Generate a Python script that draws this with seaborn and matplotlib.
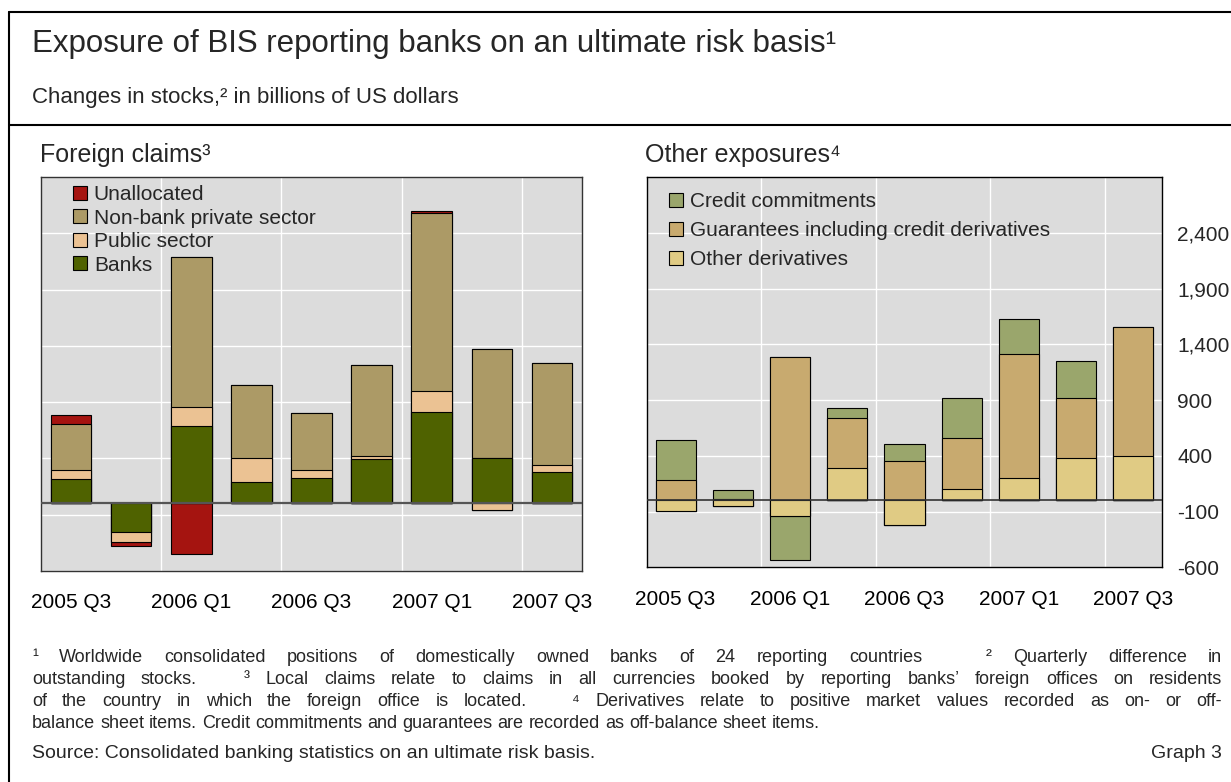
import numpy as np
import pandas as pd
import matplotlib
matplotlib.use("Agg")
import matplotlib.pyplot as plt
import seaborn as sns
from matplotlib.patches import Patch
from matplotlib.lines import Line2D
from matplotlib.ticker import FixedLocator

# ---------------- data ----------------
quarters = ["2005 Q3", "2005 Q4", "2006 Q1", "2006 Q2", "2006 Q3",
            "2006 Q4", "2007 Q1", "2007 Q2", "2007 Q3"]
tick_labels = ["2005 Q3", "2006 Q1", "2006 Q3", "2007 Q1", "2007 Q3"]
y_ticks = [-600, -100, 400, 900, 1400, 1900, 2400]

# Foreign claims (stack order bottom -> top)
banks = [215, -250, 691, 194, 229, 391, 811, 406, 282]
public_sector = [82, -94, 162, 212, 71, 35, 186, -59, 56]
nonbank_private = [412, 0, 1337, 644, 500, 803, 1584, 964, 912]
unallocated = [73, -35, -453, 0, 0, 0, 21, 0, 0]

# Other exposures (stack order bottom -> top)
other_derivatives = [-92, -54, -143, 289, -217, 104, 199, 378, 399]
guarantees = [179, 15, 1286, 452, 357, 456, 1116, 542, 1154]
credit_commitments = [363, 75, -396, 89, 149, 360, 313, 327, 0]

# ---------------- style ----------------
W, H = 1231, 782
sns.set_style("white")
plt.rcParams["font.family"] = ["Liberation Sans", "DejaVu Sans"]

fig = plt.figure(figsize=(W / 100, H / 100), dpi=100)


def fx(px):
    return px / W


def fy(py):
    return 1 - py / H


BG = "#DCDCDC"


def stacked(ax, series, colors, width):
    data = np.array(series, dtype=float)
    pos = np.clip(data, 0, None).cumsum(axis=0)
    neg = np.clip(data, None, 0).cumsum(axis=0)
    for cum in (pos, neg):
        for i in range(len(series) - 1, -1, -1):
            df = pd.DataFrame({"q": quarters, "v": cum[i]})
            sns.barplot(data=df, x="q", y="v", order=quarters, color=colors[i],
                        saturation=1, width=width, edgecolor="black",
                        linewidth=0.8, errorbar=None, ax=ax, zorder=3)


def style_axes(ax, spine_color):
    ax.set_facecolor(BG)
    ax.set_xlim(-0.5, 8.5)
    ax.set_ylim(-600, 2900)
    ax.set_yticks(y_ticks)
    ax.set_xticks([0, 2, 4, 6, 8])
    ax.set_xticklabels(tick_labels)
    ax.xaxis.set_minor_locator(FixedLocator([1.5, 3.5, 5.5, 7.5]))
    ax.grid(False)
    ax.grid(True, axis="y", which="major", color="white", lw=1.0, zorder=0)
    ax.grid(True, axis="x", which="minor", color="white", lw=1.0, zorder=0)
    ax.set_axisbelow(True)
    ax.set_xlabel("")
    ax.set_ylabel("")
    ax.tick_params(axis="x", which="both", length=0, pad=16, labelsize=15,
                   colors="black")
    for s in ax.spines.values():
        s.set_visible(True)
        s.set_color(spine_color)
        s.set_linewidth(1.0)


# ---------------- left panel ----------------
axL = fig.add_axes([fx(41), fy(571), fx(541), 394 / H])
left_colors = ["#4F6200", "#EBC293", "#AC9A66", "#A51410"]
stacked(axL, [banks, public_sector, nonbank_private, unallocated], left_colors, 0.675)
style_axes(axL, "#333333")
axL.tick_params(axis="y", length=0, labelleft=False)
axL.axhline(0, color="#555555", lw=1.6, zorder=4)

hL = [Patch(facecolor=c, edgecolor="black", linewidth=0.8) for c in left_colors[::-1]]
axL.legend(hL, ["Unallocated", "Non-bank private sector", "Public sector", "Banks"],
           loc="upper left", bbox_to_anchor=(fx(73), fy(185)),
           bbox_transform=fig.transFigure, frameon=False, fontsize=15,
           borderpad=0, borderaxespad=0, handlelength=0.65, handleheight=0.65,
           handletextpad=0.35, labelspacing=0.22)

# ---------------- right panel ----------------
axR = fig.add_axes([fx(647), fy(567.3), fx(515), 390.3 / H])
right_colors = ["#E0CB84", "#C8AA6F", "#9AA66C"]
stacked(axR, [other_derivatives, guarantees, credit_commitments], right_colors, 0.7)
style_axes(axR, "black")
axR.yaxis.tick_right()
axR.set_yticklabels([f"{v:,}" for v in y_ticks])
axR.tick_params(axis="y", length=0, pad=11, labelsize=15, labelright=True,
                labelleft=False)
axR.axhline(0, color="#333333", lw=1.2, zorder=4)

hR = [Patch(facecolor=c, edgecolor="black", linewidth=0.8) for c in right_colors[::-1]]
axR.legend(hR, ["Credit commitments", "Guarantees including credit derivatives",
                "Other derivatives"],
           loc="upper left", bbox_to_anchor=(fx(669), fy(192)),
           bbox_transform=fig.transFigure, frameon=False, fontsize=15,
           borderpad=0, borderaxespad=0, handlelength=0.65, handleheight=0.65,
           handletextpad=0.35, labelspacing=0.48)

# ---------------- frame lines ----------------
lw_frame = 1.5
fig.add_artist(Line2D([fx(9.3), 1.0], [fy(11.7), fy(11.7)], color="black", lw=lw_frame))
fig.add_artist(Line2D([fx(9.3), fx(9.3)], [fy(11.7), 0.0], color="black", lw=lw_frame))
fig.add_artist(Line2D([fx(9.3), 1.0], [fy(125), fy(125)], color="black", lw=lw_frame))

# ---------------- texts ----------------
fig.text(fx(32), fy(44), "Exposure of BIS reporting banks on an ultimate risk basis¹",
         fontsize=22.5, va="center", ha="left")
fig.text(fx(32), fy(98), "Changes in stocks,² in billions of US dollars",
         fontsize=16, va="center", ha="left")
fig.text(fx(40), fy(155), "Foreign claims³", fontsize=18, va="center", ha="left")
fig.text(fx(645), fy(155), "Other exposures⁴", fontsize=18, va="center", ha="left")

foot_lines = [
    "¹ Worldwide consolidated positions of domestically owned banks of 24 reporting countries   ² Quarterly difference in",
    "outstanding stocks.   ³ Local claims relate to claims in all currencies booked by reporting banks’ foreign offices on residents",
    "of the country in which the foreign office is located.   ⁴ Derivatives relate to positive market values recorded as on- or off-",
    "balance sheet items. Credit commitments and guarantees are recorded as off-balance sheet items.",
]
foot_y = [657, 679, 701, 723]
FS_FOOT = 13
FS_SRC = 14
x_start, x_end = 32, 1222

fig.canvas.draw()
renderer = fig.canvas.get_renderer()
_t1 = fig.text(0, 0, "a a", fontsize=FS_FOOT)
_t2 = fig.text(0, 0, "aa", fontsize=FS_FOOT)
space_w = _t1.get_window_extent(renderer).width - _t2.get_window_extent(renderer).width
_t1.remove()
_t2.remove()

for li, (line, yy) in enumerate(zip(foot_lines, foot_y)):
    toks = line.split(" ")
    words, weights = [], []
    extra = 0
    for tk in toks:
        if tk == "":
            extra += 1
            continue
        words.append(tk)
        weights.append(1 + extra)
        extra = 0
    objs = [fig.text(0, fy(yy), w, fontsize=FS_FOOT, va="center", ha="left") for w in words]
    widths = [o.get_window_extent(renderer).width for o in objs]
    justify = li < len(foot_lines) - 1
    if justify:
        total_gap = (x_end - x_start) - sum(widths)
        unit = total_gap / sum(weights[1:])
    else:
        unit = space_w
    x = x_start
    for k, (o, wd) in enumerate(zip(objs, widths)):
        if k > 0:
            x += weights[k] * unit
        o.set_x(fx(x))
        x += wd

fig.text(fx(32), fy(754), "Source: Consolidated banking statistics on an ultimate risk basis.",
         fontsize=FS_SRC, va="center", ha="left")
fig.text(fx(1222), fy(754), "Graph 3", fontsize=FS_SRC, va="center", ha="right")

fig.savefig("out.png", dpi=100)
